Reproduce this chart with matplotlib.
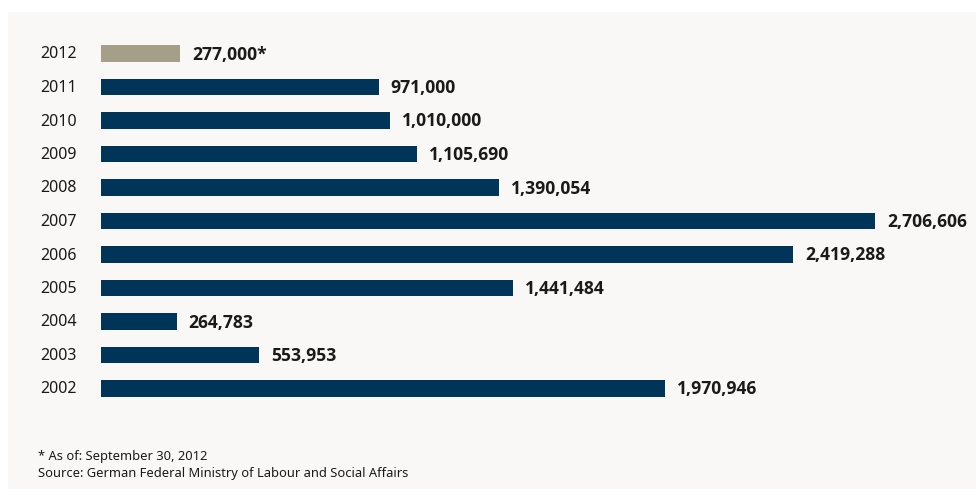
import matplotlib
matplotlib.use('Agg')
import matplotlib.pyplot as plt
from matplotlib.patches import Rectangle

years = ['2002', '2003', '2004', '2005', '2006', '2007', '2008', '2009', '2010', '2011', '2012']
values = [1970946, 553953, 264783, 1441484, 2419288, 2706606, 1390054, 1105690, 1010000, 971000, 277000]
labels = ['1,970,946', '553,953', '264,783', '1,441,484', '2,419,288', '2,706,606',
          '1,390,054', '1,105,690', '1,010,000', '971,000', '277,000*']

navy = '#003459'
sand = '#a59e88'
ink = '#1a1a1a'

plt.rcParams['font.family'] = ['Noto Sans', 'DejaVu Sans']

W, H = 976, 502
fig = plt.figure(figsize=(W / 100, H / 100), dpi=100)
fig.patch.set_facecolor('white')

# light panel behind everything
fig.patches.append(Rectangle((8 / W, (H - 490) / H), (W - 8) / W, (490 - 13) / H,
                             transform=fig.transFigure, facecolor='#f9f8f6',
                             edgecolor='none', zorder=-5))

# axes: x=0 at 101px, rows 33.5px apart centred from 53px (2012) to 388px (2002)
top_px, bot_px = 54.5 - 33.5 / 2, 389.5 + 33.5 / 2
ax = fig.add_axes([101 / W, (H - bot_px) / H, (W - 101) / W, (bot_px - top_px) / H])
ax.set_facecolor('none')
ax.set_zorder(2)
xmax = 2706606 * (W - 101) / (875 - 101)
ax.set_xlim(0, xmax)
ax.set_ylim(-0.5, len(years) - 0.5)

colors = [navy] * (len(years) - 1) + [sand]
pos = list(range(len(years)))
ax.barh(pos, values, height=0.48, color=colors)

pad = 12 * xmax / (W - 101)
for p, v, lab in zip(pos, values, labels):
    ax.text(v + pad, p, lab, va='center', ha='left', fontsize=12.6,
            family=['Open Sans', 'DejaVu Sans'], fontweight='bold',
            color=ink, clip_on=False)

for p, y in zip(pos, years):
    ax.text(-61 * xmax / (W - 101), p, y, va='center', ha='left',
            fontsize=11.5, color=ink, clip_on=False)

ax.axis('off')

fig.text(38 / W, 1 - 457 / H, '* As of: September 30, 2012', fontsize=9.3,
         color=ink, va='center', ha='left')
fig.text(38 / W, 1 - 473 / H, 'Source: German Federal Ministry of Labour and Social Affairs',
         fontsize=9.3, color=ink, va='center', ha='left')

fig.savefig('out.png', dpi=100)
